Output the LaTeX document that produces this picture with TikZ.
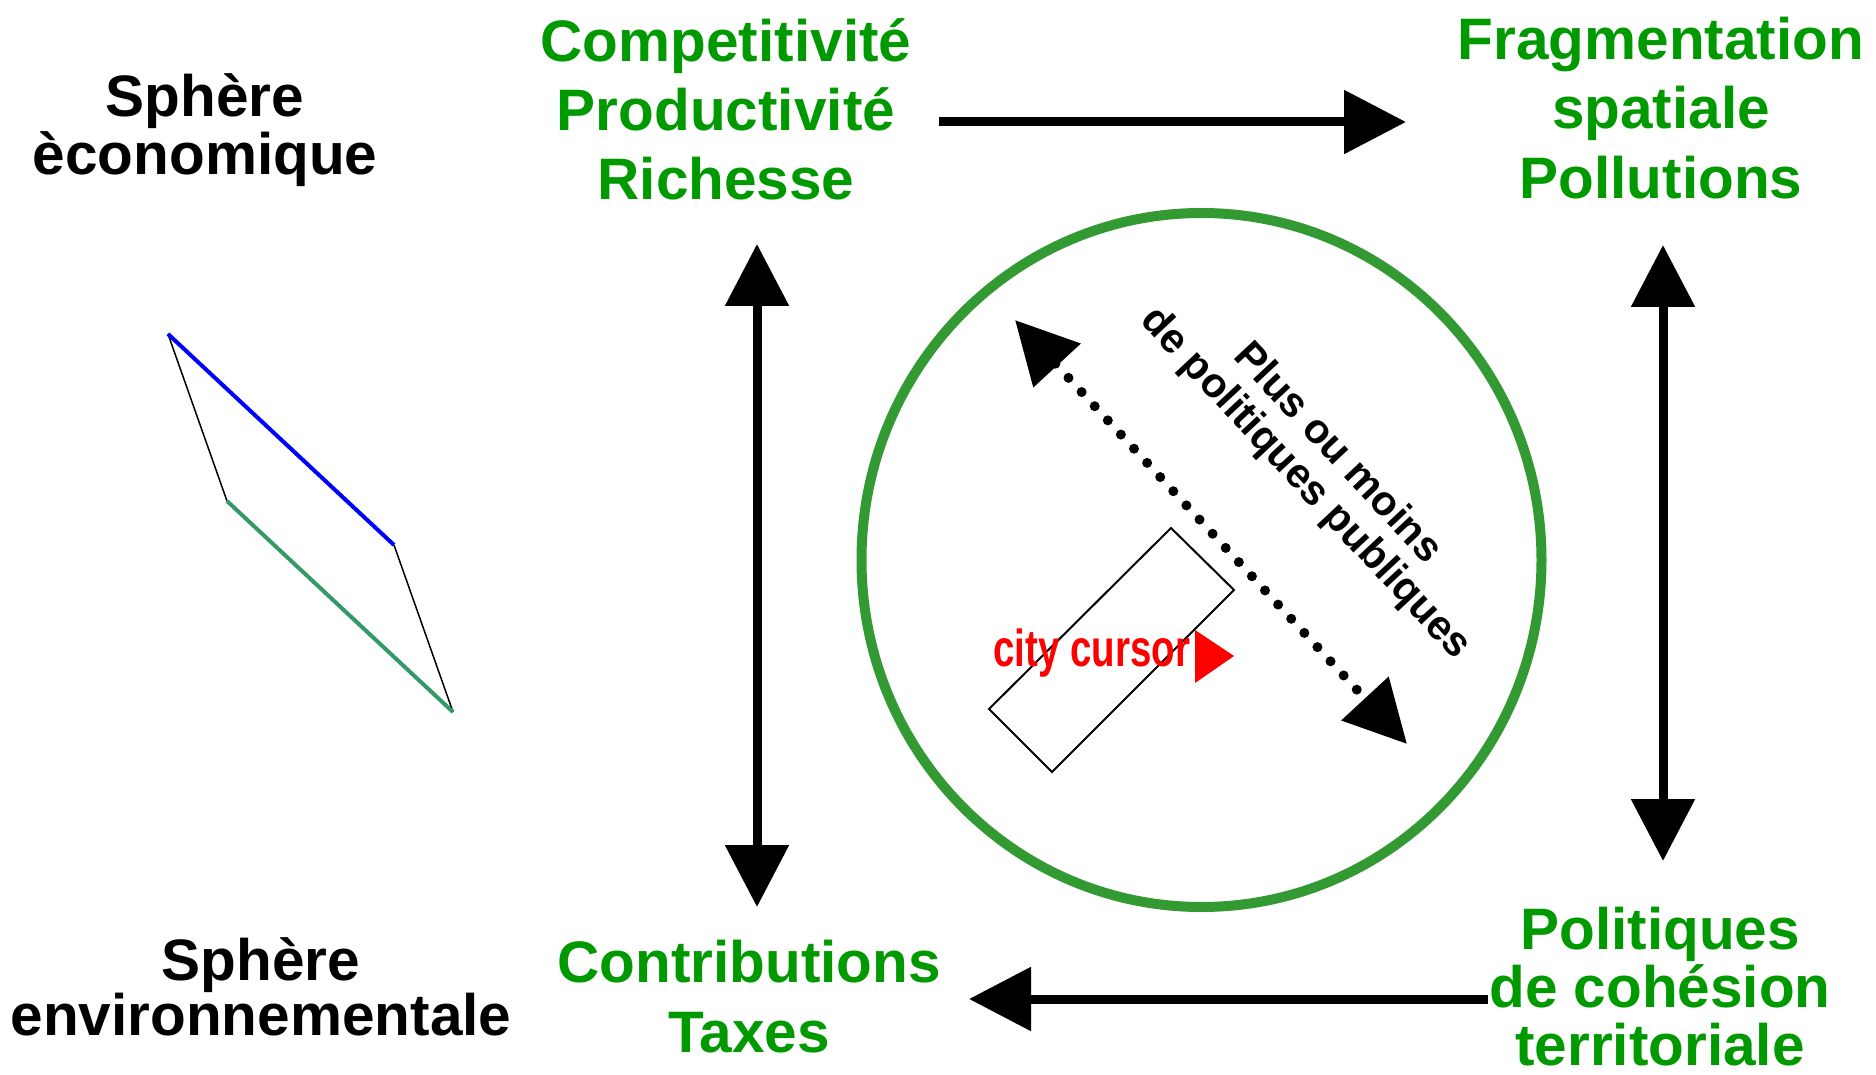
\documentclass[tikz,border=0pt]{standalone}
\usepackage{fontspec}
\setmainfont{Liberation Sans}
\newfontfamily\narrowfont{Liberation Sans}[FakeStretch=0.74]
\usetikzlibrary{arrows.meta}
\definecolor{txtgreen}{RGB}{0,153,0}
\definecolor{ringgreen}{RGB}{51,153,51}
\definecolor{seagreen}{RGB}{51,153,102}
\begin{document}
\begin{tikzpicture}[x=0.5pt,y=-0.5pt,
  lbl/.style={inner sep=0, align=center, anchor=base,
    font=\fontsize{29.25pt}{#1}\selectfont\bfseries},
  glbl/.style={lbl=#1, text=txtgreen},
  bigarrow/.style={line width=4.5pt, -{Triangle[length=31pt,width=31pt]}},
  dblarrow/.style={line width=4.5pt, {Triangle[length=31pt,width=31pt]}-{Triangle[length=31pt,width=31pt]}},
  dotarrow/.style={line width=5pt, line cap=round, dash pattern=on 0pt off 9.65pt,
    {Triangle[length=31pt,width=31pt]}-{Triangle[length=31pt,width=31pt]}}]
\useasboundingbox (0,0) rectangle (1876,1075);

% text blocks (anchor = baseline of the last line)
\node[lbl=29pt] (econ) at (205,175) {Sphère\\èconomique};
\node[glbl=34.5pt] (comp) at (726,200) {Competitivité\\Productivité\\Richesse};
\node[glbl=35pt] (frag) at (1661,199) {Fragmentation\\spatiale\\Pollutions};
\node[lbl=27.5pt] (env) at (261,1035) {Sphère\\environnementale};
\node[glbl=35pt] (contrib) at (749,1052) {Contributions\\Taxes};
\node[glbl=29pt] (polit) at (1660,1065) {Politiques\\de cohésion\\territoriale};

% arrow end points
\coordinate (topS) at (939,122);
\coordinate (topE) at (1406,122);
\coordinate (leftT) at (757,244);
\coordinate (leftB) at (757,907);
\coordinate (rightT) at (1663,245);
\coordinate (rightB) at (1663,861);
\coordinate (botS) at (1488,999);
\coordinate (botE) at (969,999);
\coordinate (dotA) at (1015,320);
\coordinate (dotB) at (1407,744);

\draw[bigarrow] (topS) -- (topE);
\draw[dblarrow] (leftT) -- (leftB);
\draw[dblarrow] (rightT) -- (rightB);
\draw[bigarrow] (botS) -- (botE);

% ring
\draw[ringgreen, line width=5pt] (1201.5,560) ellipse [x radius=340, y radius=347];

% dotted double arrow
\draw[dotarrow] (dotA) -- (dotB);

% rotated label
\node[rotate=-47, inner sep=0, align=center,
  font=\fontsize{20.75pt}{22pt}\selectfont\bfseries] (plus) at (1321,469)
  {Plus ou moins\\de politiques publiques};

% city cursor
\coordinate (r1) at (1171,528);
\coordinate (r2) at (1234,590);
\coordinate (r3) at (1052,772);
\coordinate (r4) at (989,709);
\draw[line width=1pt] (r1) -- (r2) -- (r3) -- (r4) -- cycle;
\node[inner sep=0, anchor=base west, text=red,
  font=\narrowfont\fontsize{26pt}{26pt}\selectfont\bfseries] (city) at (993,666) {city cursor};
\fill[red] (1195,630) -- (1234,656) -- (1195,683) -- cycle;

% parallelogram
\coordinate (pA) at (168,334);
\coordinate (pB) at (394,545);
\coordinate (pC) at (453,712);
\coordinate (pD) at (227,501);
\draw[line width=0.75pt] (pA) -- (pD);
\draw[line width=0.75pt] (pB) -- (pC);
\draw[blue, line width=2pt] (pA) -- (pB);
\draw[seagreen, line width=2pt] (pD) -- (pC);
\end{tikzpicture}
\end{document}
